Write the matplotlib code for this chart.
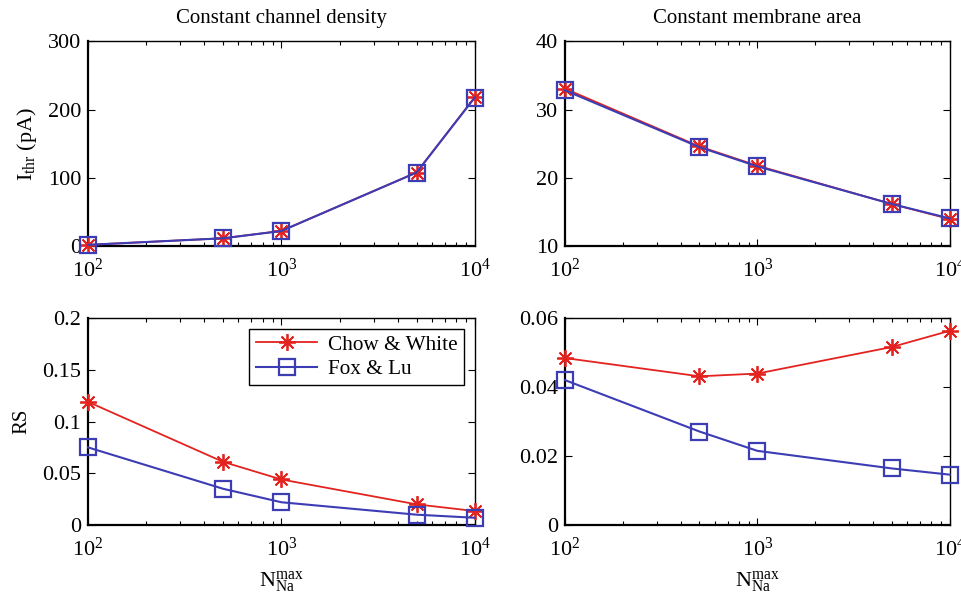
import matplotlib
matplotlib.use("Agg")
import matplotlib.pyplot as plt
import numpy as np

plt.rcParams['font.family'] = 'Liberation Serif'
plt.rcParams['mathtext.fontset'] = 'custom'
plt.rcParams['mathtext.rm'] = 'Liberation Serif'
plt.rcParams['mathtext.it'] = 'Liberation Serif:italic'
plt.rcParams['mathtext.bf'] = 'Liberation Serif:bold'

n_na = [100, 500, 1000, 5000, 10000]

# constant channel density, threshold current (pA)
ithr_density_cw = [2.4, 12, 22.8, 108, 218]
ithr_density_fl = [2.4, 12, 22.6, 108, 217.5]
# constant membrane area, threshold current (pA)
ithr_area_cw = [33.05, 24.6, 21.8, 16.2, 14.0]
ithr_area_fl = [32.8, 24.5, 21.7, 16.2, 14.1]
# RS, constant channel density
rs_density_cw = [0.119, 0.061, 0.044, 0.020, 0.0135]
rs_density_fl = [0.075, 0.035, 0.022, 0.010, 0.007]
# RS, constant membrane area
rs_area_cw = [0.0484, 0.0431, 0.0439, 0.0516, 0.0563]
rs_area_fl = [0.0420, 0.0271, 0.0215, 0.0164, 0.0146]

red = '#e3231f'
blue = '#3c3cb4'
star = (8, 2, 0)

fig = plt.figure(figsize=(9.62, 5.99), dpi=100)
w = 0.402
h_top = 0.343
h_bot = 0.3456
ax1 = fig.add_axes([0.0915, 0.5885, w, h_top])
ax2 = fig.add_axes([0.5873, 0.5885, 0.400, h_top])
ax3 = fig.add_axes([0.0915, 0.1235, w, h_bot])
ax4 = fig.add_axes([0.5873, 0.1235, 0.400, h_bot])

panels = [
    (ax1, ithr_density_cw, ithr_density_fl, (0, 300), [0, 100, 200, 300], ['0', '100', '200', '300']),
    (ax2, ithr_area_cw, ithr_area_fl, (10, 40), [10, 20, 30, 40], ['10', '20', '30', '40']),
    (ax3, rs_density_cw, rs_density_fl, (0, 0.2), [0, 0.05, 0.1, 0.15, 0.2], ['0', '0.05', '0.1', '0.15', '0.2']),
    (ax4, rs_area_cw, rs_area_fl, (0, 0.06), [0, 0.02, 0.04, 0.06], ['0', '0.02', '0.04', '0.06']),
]

for ax, cw, fl, ylim, yt, ytl in panels:
    ax.plot(n_na, cw, color=red, lw=1.3, marker=star, ms=12, mew=1.3,
            label='Chow & White', clip_on=False, zorder=3)
    ax.plot(n_na, fl, color=blue, lw=1.5, marker='s', ms=12, mew=1.6,
            mfc='none', label='Fox & Lu', clip_on=False, zorder=3)
    ax.set_xscale('log')
    ax.set_xlim(100, 10000)
    ax.set_ylim(*ylim)
    ax.set_yticks(yt)
    ax.set_yticklabels(ytl)
    ax.tick_params(which='both', direction='in', top=True, right=True,
                   labelsize=16, width=0.8)
    ax.tick_params(which='major', length=5)
    ax.tick_params(which='minor', length=3)
    ax.tick_params(axis='x', pad=9)
    ax.tick_params(axis='y', pad=5)
    for s in ax.spines.values():
        s.set_linewidth(1.0)
    ax.spines['left'].set_linewidth(1.6)
    ax.spines['bottom'].set_linewidth(1.6)

ax1.set_title('Constant channel density', fontsize=15, pad=13)
ax2.set_title('Constant membrane area', fontsize=15, pad=13)
ax1.set_ylabel(r'I$_{\mathrm{thr}}$ (pA)', fontsize=16, labelpad=6)
ax3.set_ylabel('RS', fontsize=15, labelpad=8)
ax3.set_xlabel(r'N$_{\mathrm{Na}}^{\mathrm{max}}$', fontsize=16, labelpad=6)
ax4.set_xlabel(r'N$_{\mathrm{Na}}^{\mathrm{max}}$', fontsize=16, labelpad=6)

leg = ax3.legend(loc='upper right', fontsize=15.3, fancybox=False, framealpha=1,
                 edgecolor='black', handlelength=2.9, borderaxespad=0.5,
                 borderpad=0.3, labelspacing=0.2, handletextpad=0.5)
leg.get_frame().set_linewidth(1.0)

fig.savefig('out.png', dpi=100)
